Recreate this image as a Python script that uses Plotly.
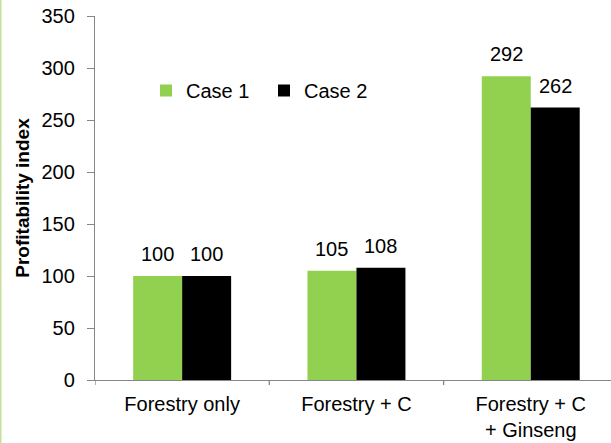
import plotly.graph_objects as go

categories = ["Forestry only", "Forestry + C", "Forestry + C<br>+ Ginseng"]
case1 = [100, 105, 292]
case2 = [100, 108, 262]
series_names = ["Case 1", "Case 2"]
series_colors = ["#92d050", "#000000"]
y_ticks = [0, 50, 100, 150, 200, 250, 300, 350]

font = "Liberation Sans, Arial, sans-serif"
W, H = 611, 443
ML, MR, MT, MB = 95, 0, 16, 63
BARGAP = 0.438
cat_px = 174.3
plot_w = W - ML - MR
x_max = -0.5 + plot_w / cat_px

fig = go.Figure()
for name, vals, col in zip(series_names, [case1, case2], series_colors):
    fig.add_trace(go.Bar(x=list(range(len(categories))), y=vals, name=name, marker_color=col,
                         marker_line_width=0))

# value labels above bars
half = (1 - BARGAP) / 4
for k, vals in enumerate([case1, case2]):
    off = -half if k == 0 else half
    for i, v in enumerate(vals):
        fig.add_annotation(x=i + off, y=v, text=str(v), showarrow=False,
                           xanchor="center", yanchor="bottom", yshift=9,
                           font=dict(size=20, family=font, color="#000000"))

fig.update_layout(
    width=W, height=H,
    margin=dict(l=ML, r=MR, t=MT, b=MB, autoexpand=False),
    paper_bgcolor="white", plot_bgcolor="white",
    barmode="group", bargap=BARGAP, bargroupgap=0,
    font=dict(family=font, size=20, color="#000000"),
    legend=dict(orientation="h", x=(146 - ML) / plot_w, y=(380 - 90.5) / 364,
                xanchor="left", yanchor="middle",
                font=dict(size=20, family=font), bgcolor="rgba(0,0,0,0)",
                traceorder="normal", itemwidth=30,
                entrywidth=73, entrywidthmode="pixels"),
    showlegend=True,
)
fig.update_yaxes(range=[0, 350], tickvals=y_ticks, showgrid=False, zeroline=False,
                 showline=True, linecolor="#868686", linewidth=1.3,
                 ticks="outside", ticklen=7, tickcolor="#868686", tickwidth=1.3,
                 ticklabelstandoff=8,
                 tickfont=dict(size=20, family=font),
                 title=dict(text="<b>Profitability index</b>", font=dict(size=19, family=font), standoff=6))
fig.update_xaxes(range=[-0.5, x_max], tickmode="array",
                 tickvals=list(range(len(categories))), ticktext=categories,
                 showgrid=False, showline=True, linecolor="#868686", linewidth=1.3,
                 ticks="", tickfont=dict(size=20, family=font), ticklabelstandoff=6)

# boundary tick marks between categories
for b in [i + 0.5 for i in range(len(categories))] + [-0.5]:
    fig.add_shape(type="line", xref="x", yref="paper", x0=b, x1=b, y0=0, y1=-5 / 364,
                  line=dict(color="#868686", width=1.3))

fig.add_shape(type="line", xref="paper", yref="paper",
              x0=(-ML + 0.7) / plot_w, x1=(-ML + 0.7) / plot_w, y0=-MB / 364, y1=1 + MT / 364,
              line=dict(color="#c4df9b", width=1.5))

fig.write_html("out.html", config={"displayModeBar": False},
               post_script="document.body.style.margin='0px';document.body.style.overflow='hidden';")
